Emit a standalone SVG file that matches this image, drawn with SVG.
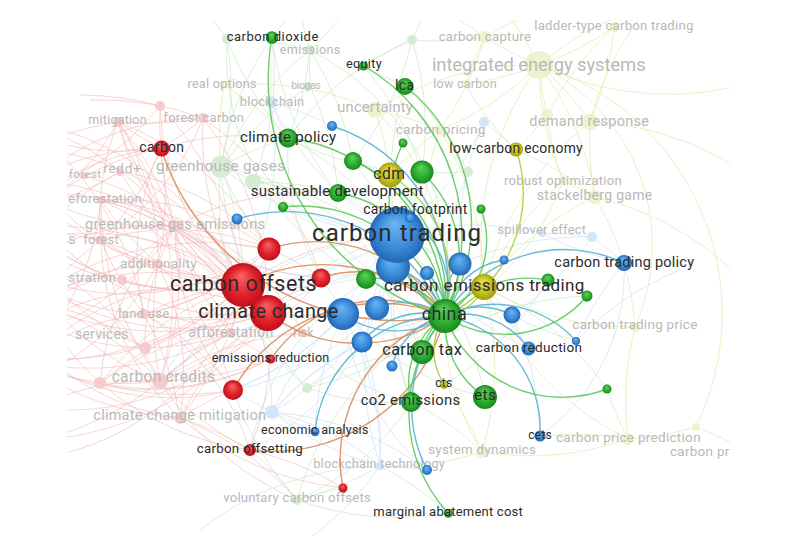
<svg xmlns="http://www.w3.org/2000/svg" width="790" height="552" viewBox="0 0 790 552">
<defs>
<style>
text{font-family:Roboto,"Liberation Sans",Arial,sans-serif;text-anchor:middle}
.d{fill:#2b2b2b}
.f{fill:#b9b9b9}
.s{text-anchor:start}
.ep path{fill:none;stroke:#f2b3b3;stroke-opacity:.55;stroke-width:1}
.eg path{fill:none;stroke:#c4e4c0;stroke-opacity:.6;stroke-width:1}
.ey path{fill:none;stroke:#e6ebb0;stroke-opacity:.75;stroke-width:1}
.eb path{fill:none;stroke:#c6dcf0;stroke-opacity:.6;stroke-width:1}
.h path{fill:none;stroke-width:1.4;stroke-opacity:.9}
.hr{stroke:#dc8d5a}
.hb{stroke:#5bb3d3}
.hy{stroke:#a8cf3c}
.hg{stroke:#5ac95a}
.fp{fill:#f7cbcb}
.fg{fill:#d4ecd1}
.fy{fill:#f0f2cd}
.fb{fill:#d4e5f5}
.cr{fill:url(#gR)}
.cb{fill:url(#gB)}
.cg{fill:url(#gG)}
.cy{fill:url(#gY)}
</style>
<radialGradient id="gR" cx=".5" cy=".5" r=".5" fx=".45" fy=".28"><stop offset="0" stop-color="#f6676a"/><stop offset=".6" stop-color="#e2242c"/><stop offset="1" stop-color="#bf0f1b"/></radialGradient>
<radialGradient id="gB" cx=".5" cy=".5" r=".5" fx=".45" fy=".28"><stop offset="0" stop-color="#6cb5f1"/><stop offset=".6" stop-color="#3d8fdb"/><stop offset="1" stop-color="#2367b3"/></radialGradient>
<radialGradient id="gG" cx=".5" cy=".5" r=".5" fx=".45" fy=".28"><stop offset="0" stop-color="#62d25c"/><stop offset=".6" stop-color="#2fae34"/><stop offset="1" stop-color="#178a1e"/></radialGradient>
<radialGradient id="gY" cx=".5" cy=".5" r=".5" fx=".45" fy=".28"><stop offset="0" stop-color="#e2e24e"/><stop offset=".6" stop-color="#c6c41d"/><stop offset="1" stop-color="#a09e0b"/></radialGradient>
<clipPath id="vp"><rect x="67" y="20" width="663" height="516"/></clipPath>
</defs>
<rect width="790" height="552" fill="#fff"/>
<g clip-path="url(#vp)">
<g id="edges-faded">
<g class="ep">
<path d="M243 285 A300 300 0 0 1 160 381"/><path d="M243 285 A300 300 0 0 0 100 383"/><path d="M243 285 A300 300 0 0 1 180 418"/><path d="M243 285 A300 300 0 0 0 144 314"/><path d="M243 285 A300 300 0 0 1 158 264"/><path d="M243 285 A300 300 0 0 0 175 226"/><path d="M243 285 A300 300 0 0 1 101 240"/><path d="M243 285 A300 300 0 0 0 101 200"/><path d="M243 285 A300 300 0 0 1 120 172"/><path d="M243 285 A300 300 0 0 0 85 176"/><path d="M243 285 A300 300 0 0 1 118 122"/><path d="M243 285 A300 300 0 0 0 160 106"/><path d="M243 285 A300 300 0 0 1 203 118"/><path d="M243 285 A300 300 0 0 1 231 333"/><path d="M243 285 A300 300 0 0 0 20 120"/><path d="M243 285 A300 300 0 0 1 10 230"/><path d="M243 285 A300 300 0 0 0 30 300"/><path d="M243 285 A300 300 0 0 1 20 360"/><path d="M243 285 A300 300 0 0 0 30 180"/>
<path d="M268 313 A300 300 0 0 1 160 381"/><path d="M268 313 A300 300 0 0 0 180 418"/><path d="M268 313 A300 300 0 0 1 144 314"/><path d="M268 313 A300 300 0 0 0 158 264"/><path d="M268 313 A300 300 0 0 1 175 226"/><path d="M268 313 A300 300 0 0 0 101 200"/><path d="M268 313 A300 300 0 0 1 118 122"/><path d="M268 313 A300 300 0 0 0 203 118"/><path d="M268 313 A300 300 0 0 0 10 230"/><path d="M268 313 A300 300 0 0 1 30 300"/><path d="M268 313 A300 300 0 0 0 100 383"/><path d="M268 313 A300 300 0 0 1 40 440"/>
<path d="M160 381 A300 300 0 0 1 158 264"/><path d="M160 381 A300 300 0 0 0 175 226"/><path d="M160 381 A300 300 0 0 1 101 200"/><path d="M160 381 A300 300 0 0 0 30 300"/><path d="M160 381 A300 300 0 0 1 40 440"/><path d="M160 381 A300 300 0 0 0 118 122"/>
<path d="M180 418 A300 300 0 0 1 20 360"/><path d="M180 418 A300 300 0 0 0 144 314"/><path d="M180 418 A300 300 0 0 1 250 450"/><path d="M180 418 A300 300 0 0 1 297 500"/><path d="M160 381 A300 300 0 0 0 297 500"/>
<path d="M175 226 A300 300 0 0 0 118 122"/><path d="M175 226 A300 300 0 0 1 161 148"/><path d="M175 226 A300 300 0 0 0 20 120"/><path d="M175 226 A300 300 0 0 1 30 300"/>
<path d="M161 148 A300 300 0 0 1 118 122"/><path d="M161 148 A300 300 0 0 0 85 176"/><path d="M161 148 A300 300 0 0 1 160 106"/><path d="M161 148 A300 300 0 0 0 30 180"/><path d="M161 148 A300 300 0 0 1 158 264"/>
<path d="M158 264 A300 300 0 0 0 10 230"/><path d="M158 264 A300 300 0 0 1 101 200"/><path d="M144 314 A300 300 0 0 0 20 120"/><path d="M144 314 A300 300 0 0 1 101 240"/>
<path d="M160 106 A300 300 0 0 0 80 95"/><path d="M203 118 A300 300 0 0 1 118 122"/><path d="M203 118 A300 300 0 0 0 90 100"/>
<path d="M269 249 A300 300 0 0 1 175 226"/><path d="M269 249 A300 300 0 0 0 118 122"/><path d="M269 249 A300 300 0 0 1 160 381"/><path d="M269 249 A300 300 0 0 0 30 300"/>
<path d="M321 278 A300 300 0 0 1 175 226"/><path d="M321 278 A300 300 0 0 0 203 118"/><path d="M321 278 A300 300 0 0 1 160 381"/>
<path d="M231 333 A300 300 0 0 1 20 360"/><path d="M231 333 A300 300 0 0 0 160 381"/>
<path d="M270 359 A300 300 0 0 1 160 381"/><path d="M270 359 A300 300 0 0 0 175 226"/>
<path d="M233 390 A300 300 0 0 1 100 383"/><path d="M233 390 A300 300 0 0 0 158 264"/><path d="M233 390 A300 300 0 0 0 180 418"/>
<path d="M250 450 A300 300 0 0 1 160 381"/><path d="M250 450 A300 300 0 0 0 270 359"/><path d="M250 450 A300 300 0 0 1 100 383"/>
<path d="M303 333 A300 300 0 0 1 175 226"/><path d="M303 333 A300 300 0 0 0 160 381"/>
<path d="M145 348 A300 300 0 0 1 10 230"/><path d="M145 348 A300 300 0 0 0 243 285"/><path d="M100 383 A300 300 0 0 1 20 260"/><path d="M101 240 A300 300 0 0 0 20 330"/><path d="M120 172 A300 300 0 0 1 20 210"/><path d="M118 122 A300 300 0 0 0 10 160"/>
<path d="M343 488 A300 300 0 0 1 180 418"/><path d="M343 488 A300 300 0 0 0 250 450"/>
<path d="M243 285 A300 300 0 0 1 397 235"/><path d="M268 313 A300 300 0 0 0 343 314"/><path d="M175 226 A300 300 0 0 1 338 193"/><path d="M161 148 A300 300 0 0 1 288 138"/>
<path d="M243 285 A250 250 0 0 1 0 100"/><path d="M243 285 A250 250 0 0 0 0 150"/><path d="M243 285 A250 250 0 0 1 0 200"/><path d="M243 285 A250 250 0 0 0 0 250"/><path d="M243 285 A250 250 0 0 1 0 350"/><path d="M243 285 A250 250 0 0 0 0 400"/><path d="M243 285 A250 250 0 0 1 20 460"/>
<path d="M268 313 A250 250 0 0 1 0 150"/><path d="M268 313 A250 250 0 0 0 0 200"/><path d="M268 313 A250 250 0 0 1 0 250"/><path d="M268 313 A250 250 0 0 0 0 350"/><path d="M268 313 A250 250 0 0 1 0 400"/>
<path d="M160 381 A250 250 0 0 1 0 200"/><path d="M160 381 A250 250 0 0 0 0 250"/><path d="M160 381 A250 250 0 0 1 0 350"/><path d="M160 381 A250 250 0 0 0 0 430"/>
<path d="M175 226 A250 250 0 0 1 0 170"/><path d="M175 226 A250 250 0 0 0 0 280"/><path d="M175 226 A250 250 0 0 1 0 340"/><path d="M175 226 A250 250 0 0 0 100 383"/>
<path d="M158 264 A250 250 0 0 1 0 150"/><path d="M158 264 A250 250 0 0 0 0 330"/><path d="M158 264 A250 250 0 0 1 0 390"/><path d="M158 264 A250 250 0 0 0 118 122"/>
<path d="M144 314 A250 250 0 0 1 0 260"/><path d="M144 314 A250 250 0 0 0 0 380"/><path d="M144 314 A250 250 0 0 1 161 148"/><path d="M144 314 A250 250 0 0 0 269 249"/>
<path d="M161 148 A250 250 0 0 1 0 120"/><path d="M161 148 A250 250 0 0 0 0 230"/><path d="M161 148 A250 250 0 0 1 101 240"/><path d="M161 148 A250 250 0 0 0 203 118"/>
<path d="M231 333 A250 250 0 0 1 0 300"/><path d="M231 333 A250 250 0 0 0 101 200"/><path d="M231 333 A250 250 0 0 1 175 226"/><path d="M231 333 A250 250 0 0 0 100 383"/>
<path d="M269 249 A250 250 0 0 1 0 260"/><path d="M269 249 A250 250 0 0 0 101 200"/><path d="M269 249 A250 250 0 0 1 144 314"/><path d="M269 249 A250 250 0 0 0 120 172"/>
<path d="M233 390 A250 250 0 0 1 0 330"/><path d="M233 390 A250 250 0 0 0 144 314"/><path d="M233 390 A250 250 0 0 1 175 226"/>
<path d="M180 418 A250 250 0 0 1 0 300"/><path d="M180 418 A250 250 0 0 0 158 264"/><path d="M180 418 A250 250 0 0 1 101 240"/>
<path d="M118 122 A250 250 0 0 1 0 230"/><path d="M118 122 A250 250 0 0 0 101 240"/><path d="M120 172 A250 250 0 0 0 0 300"/><path d="M101 200 A250 250 0 0 1 0 380"/><path d="M85 176 A250 250 0 0 0 0 260"/>
<path d="M270 359 A250 250 0 0 1 0 340"/><path d="M270 359 A250 250 0 0 0 144 314"/><path d="M270 359 A250 250 0 0 1 100 383"/>
<path d="M321 278 A250 250 0 0 0 101 240"/><path d="M321 278 A250 250 0 0 1 144 314"/><path d="M303 333 A250 250 0 0 0 101 200"/><path d="M250 450 A250 250 0 0 0 144 314"/>
<path d="M203 118 A250 250 0 0 1 101 240"/><path d="M203 118 A250 250 0 0 0 0 220"/><path d="M160 106 A250 250 0 0 1 0 200"/><path d="M160 106 A250 250 0 0 0 243 285"/>
<path d="M145 348 A250 250 0 0 1 175 226"/><path d="M145 348 A250 250 0 0 0 0 300"/><path d="M122 280 A250 250 0 0 1 0 200"/><path d="M122 280 A250 250 0 0 0 243 285"/>
</g>
<g class="eg">
<path d="M227 39 A300 300 0 0 1 221 167"/><path d="M227 39 A300 300 0 0 0 288 138"/><path d="M227 39 A300 300 0 0 1 310 50"/><path d="M272 37 A300 300 0 0 0 221 167"/><path d="M272 37 A300 300 0 0 1 253 182"/><path d="M272 37 A300 300 0 0 0 338 193"/>
<path d="M310 50 A300 300 0 0 1 288 138"/><path d="M310 50 A300 300 0 0 0 221 167"/><path d="M310 50 A300 300 0 0 1 353 161"/><path d="M310 50 A300 300 0 0 0 310 86"/><path d="M310 50 A300 300 0 0 1 300 10"/><path d="M310 50 A300 300 0 0 0 350 5"/>
<path d="M412 40 A300 300 0 0 1 353 161"/><path d="M412 40 A300 300 0 0 0 288 138"/><path d="M412 40 A300 300 0 0 1 422 172"/><path d="M412 40 A300 300 0 0 0 485 37"/><path d="M412 40 A300 300 0 0 1 430 5"/><path d="M412 40 A300 300 0 0 0 364 66"/>
<path d="M227 39 A300 300 0 0 0 200 5"/><path d="M272 37 A300 300 0 0 1 300 5"/>
<path d="M221 167 A300 300 0 0 1 288 138"/><path d="M221 167 A300 300 0 0 0 338 193"/><path d="M221 167 A300 300 0 0 1 243 285"/><path d="M221 167 A300 300 0 0 0 269 249"/>
<path d="M253 182 A300 300 0 0 1 338 193"/><path d="M253 182 A300 300 0 0 0 397 235"/><path d="M288 138 A300 300 0 0 1 397 235"/><path d="M288 138 A300 300 0 0 0 422 172"/>
<path d="M364 66 A300 300 0 0 1 422 172"/><path d="M364 66 A300 300 0 0 0 405 86"/><path d="M405 86 A300 300 0 0 1 468 172"/><path d="M405 86 A300 300 0 0 0 397 235"/><path d="M353 161 A300 300 0 0 1 397 235"/>
<path d="M307 388 A300 300 0 0 0 445 316"/><path d="M307 388 A300 300 0 0 1 243 285"/>
<path d="M297 500 A300 300 0 0 1 343 488"/><path d="M297 500 A300 300 0 0 0 250 450"/><path d="M297 500 A300 300 0 0 1 445 316"/><path d="M297 500 A300 300 0 0 0 380 466"/><path d="M297 500 A300 300 0 0 1 233 390"/>
<path d="M468 172 A300 300 0 0 0 445 316"/><path d="M468 172 A300 300 0 0 1 422 172"/><path d="M310 86 A300 300 0 0 1 338 193"/><path d="M310 86 A300 300 0 0 0 221 167"/>
<path d="M338 193 A300 300 0 0 1 485 397"/><path d="M422 172 A300 300 0 0 0 411 402"/><path d="M283 207 A300 300 0 0 1 422 352"/><path d="M448 513 A300 300 0 0 0 380 466"/><path d="M448 513 A300 300 0 0 1 297 500"/>
<path d="M607 389 A300 300 0 0 0 484 287"/><path d="M548 280 A300 300 0 0 1 411 402"/><path d="M587 296 A300 300 0 0 0 422 352"/>
<path d="M221 167 A250 250 0 0 1 422 352"/><path d="M221 167 A250 250 0 0 0 411 402"/><path d="M253 182 A250 250 0 0 1 445 316"/><path d="M288 138 A250 250 0 0 0 485 397"/><path d="M310 50 A250 250 0 0 1 445 316"/><path d="M227 39 A250 250 0 0 0 366 279"/>
<path d="M307 388 A250 250 0 0 1 422 352"/><path d="M307 388 A250 250 0 0 0 411 402"/><path d="M307 388 A250 250 0 0 1 221 167"/><path d="M297 500 A250 250 0 0 0 411 402"/>
</g>
<g class="ey">
<path d="M539 65 A300 300 0 0 1 485 37"/><path d="M539 65 A300 300 0 0 0 614 27"/><path d="M539 65 A300 300 0 0 1 465 84"/><path d="M539 65 A300 300 0 0 0 547 115"/><path d="M539 65 A300 300 0 0 1 590 122"/><path d="M539 65 A300 300 0 0 0 563 181"/><path d="M539 65 A300 300 0 0 1 595 197"/><path d="M539 65 A300 300 0 0 0 500 5"/><path d="M539 65 A300 300 0 0 1 650 5"/><path d="M539 65 A300 300 0 0 0 760 80"/><path d="M539 65 A300 300 0 0 1 440 130"/><path d="M539 65 A300 300 0 0 0 375 110"/><path d="M539 65 A200 200 0 0 1 635 327"/><path d="M539 65 A300 300 0 0 0 484 287"/><path d="M539 65 A260 260 0 0 1 696 427"/>
<path d="M485 37 A300 300 0 0 1 560 5"/><path d="M485 37 A300 300 0 0 0 465 84"/><path d="M485 37 A300 300 0 0 1 440 130"/><path d="M485 37 A300 300 0 0 0 430 5"/>
<path d="M614 27 A300 300 0 0 1 700 5"/><path d="M614 27 A300 300 0 0 0 547 115"/><path d="M614 27 A300 300 0 0 1 590 122"/>
<path d="M590 122 A300 300 0 0 0 595 197"/><path d="M590 122 A300 300 0 0 1 780 200"/><path d="M590 122 A300 300 0 0 0 484 287"/><path d="M590 122 A300 300 0 0 1 650 5"/>
<path d="M547 115 A300 300 0 0 0 563 181"/><path d="M547 115 A300 300 0 0 1 516 150"/>
<path d="M595 197 A300 300 0 0 0 484 287"/><path d="M595 197 A300 300 0 0 1 635 327"/><path d="M595 197 A300 300 0 0 0 563 181"/><path d="M595 197 A300 300 0 0 1 760 300"/>
<path d="M635 327 A300 300 0 0 0 628 439"/><path d="M635 327 A300 300 0 0 1 484 287"/><path d="M628 439 A300 300 0 0 0 696 427"/><path d="M696 427 A300 300 0 0 1 760 460"/><path d="M628 439 A300 300 0 0 1 482 452"/>
<path d="M482 452 A300 300 0 0 0 444 384"/><path d="M482 452 A300 300 0 0 1 380 466"/><path d="M482 452 A300 300 0 0 0 484 287"/>
<path d="M375 110 A300 300 0 0 1 390 175"/><path d="M375 110 A300 300 0 0 0 224 85"/><path d="M224 85 A300 300 0 0 1 288 138"/><path d="M224 85 A300 300 0 0 0 221 167"/><path d="M375 110 A300 300 0 0 1 440 130"/>
<path d="M440 130 A300 300 0 0 0 390 175"/><path d="M440 130 A300 300 0 0 1 484 287"/><path d="M465 84 A300 300 0 0 0 516 150"/><path d="M516 150 A300 300 0 0 1 595 197"/><path d="M563 181 A300 300 0 0 0 484 287"/>
<path d="M628 439 A300 300 0 0 1 484 287"/><path d="M607 389 A300 300 0 0 0 628 439"/><path d="M540 436 A300 300 0 0 1 628 439"/>
<path d="M482 452 A250 250 0 0 1 445 316"/><path d="M482 452 A250 250 0 0 0 411 402"/><path d="M375 110 A250 250 0 0 1 445 316"/><path d="M440 130 A250 250 0 0 0 445 316"/><path d="M563 181 A250 250 0 0 1 445 316"/>
</g>
<g class="eb">
<path d="M271 102 A300 300 0 0 1 332 126"/><path d="M271 102 A300 300 0 0 0 397 235"/><path d="M271 102 A300 300 0 0 1 243 285"/><path d="M271 102 A300 300 0 0 0 288 138"/>
<path d="M484 122 A300 300 0 0 1 397 235"/><path d="M484 122 A300 300 0 0 0 460 264"/><path d="M484 122 A300 300 0 0 1 516 150"/>
<path d="M542 233 A300 300 0 0 0 397 235"/><path d="M542 233 A300 300 0 0 1 592 237"/><path d="M542 233 A300 300 0 0 0 624 263"/>
<path d="M592 237 A300 300 0 0 1 624 263"/><path d="M592 237 A300 300 0 0 0 460 264"/><path d="M592 237 A300 300 0 0 1 512 315"/>
<path d="M272 412 A300 300 0 0 1 343 314"/><path d="M272 412 A300 300 0 0 0 243 285"/><path d="M272 412 A300 300 0 0 1 233 390"/><path d="M272 412 A300 300 0 0 0 380 466"/><path d="M272 412 A300 300 0 0 1 445 316"/><path d="M272 412 A300 300 0 0 0 315 431"/><path d="M272 412 A300 300 0 0 1 362 342"/>
<path d="M380 466 A300 300 0 0 0 343 314"/><path d="M380 466 A300 300 0 0 1 427 470"/><path d="M380 466 A300 300 0 0 0 362 342"/><path d="M380 466 A300 300 0 0 1 397 235"/>
<path d="M540 436 A300 300 0 0 0 512 315"/><path d="M576 341 A300 300 0 0 1 624 263"/><path d="M528 348 A300 300 0 0 0 397 235"/><path d="M343 314 A300 300 0 0 1 397 235"/><path d="M362 342 A300 300 0 0 0 397 235"/>
<path d="M393 267 A300 300 0 0 1 243 285"/><path d="M393 267 A300 300 0 0 0 268 313"/><path d="M397 235 A300 300 0 0 1 243 285"/><path d="M397 235 A300 300 0 0 0 268 313"/><path d="M397 235 A300 300 0 0 1 221 167"/><path d="M397 235 A300 300 0 0 0 160 381"/>
<path d="M540 436 A200 200 0 0 0 624 263"/><path d="M576 341 A300 300 0 0 1 680 270"/><path d="M380 466 A300 300 0 0 1 300 545"/><path d="M380 466 A300 300 0 0 0 200 530"/><path d="M427 470 A300 300 0 0 0 272 412"/><path d="M315 431 A300 300 0 0 1 343 314"/>
<path d="M397 235 A300 300 0 0 1 512 315"/><path d="M397 235 A300 300 0 0 0 528 348"/><path d="M397 235 A300 300 0 0 1 233 390"/><path d="M397 235 A300 300 0 0 0 411 402"/><path d="M343 314 A300 300 0 0 1 233 390"/><path d="M512 315 A300 300 0 0 0 576 341"/>
<path d="M393 267 A250 250 0 0 1 175 226"/><path d="M393 267 A250 250 0 0 0 250 450"/><path d="M343 314 A250 250 0 0 0 160 381"/><path d="M377 308 A250 250 0 0 1 233 390"/><path d="M362 342 A250 250 0 0 1 250 450"/><path d="M272 412 A250 250 0 0 0 397 235"/><path d="M380 466 A250 250 0 0 0 272 412"/><path d="M427 470 A250 250 0 0 1 343 314"/>
</g>
</g>
<g id="nodes-faded">
<g id="f-g1"><circle cx="227" cy="39" r="5" class="fg"/></g>
<g id="f-g2"><circle cx="412" cy="40" r="5" class="fg"/></g>
<g id="f-p3"><circle cx="160" cy="106" r="5" class="fp"/></g>
<g id="f-g3"><circle cx="468" cy="172" r="5" class="fg"/></g>
<g id="f-g4"><circle cx="253" cy="182" r="8" class="fg"/></g>
<g id="f-b4"><circle cx="272" cy="412" r="7" class="fb"/></g>
<g id="f-g5"><circle cx="307" cy="388" r="5" class="fg"/></g>
<g id="f-p1"><circle cx="122" cy="280" r="5" class="fp"/></g>
<g id="f-p2"><circle cx="100" cy="383" r="6" class="fp"/></g>
<g id="f-p4"><circle cx="145" cy="348" r="6" class="fp"/></g>
<g id="f-y1"><circle cx="696" cy="427" r="4" class="fy"/></g>
<g id="f-y2"><circle cx="547" cy="115" r="6" class="fy"/></g>
<g id="f-b2"><circle cx="592" cy="237" r="5" class="fb"/></g>
<g id="f-b3"><circle cx="484" cy="122" r="5" class="fb"/></g>
<g id="f-emissions"><circle cx="310" cy="50" r="5" class="fg"/><text class="f" x="310" y="54" font-size="12.6" textLength="60.7" lengthAdjust="spacing">emissions</text></g>
<g id="f-real-options"><circle cx="224" cy="85" r="4" class="fy"/><text class="f" x="222" y="87.7" font-size="12.7" textLength="69" lengthAdjust="spacing">real options</text></g>
<g id="f-biogas"><circle cx="308" cy="86" r="4" class="fg"/><text class="f" x="306" y="89" font-size="10.5" textLength="29.3" lengthAdjust="spacing">biogas</text></g>
<g id="f-blockchain"><circle cx="271" cy="102" r="6" class="fb"/><text class="f" x="272" y="105.7" font-size="12.9" textLength="64.3" lengthAdjust="spacing">blockchain</text></g>
<g id="f-uncertainty"><circle cx="375" cy="110" r="8" class="fy"/><text class="f" x="375" y="112.3" font-size="14.7" textLength="75.4" lengthAdjust="spacing">uncertainty</text></g>
<g id="f-mitigation"><circle cx="118" cy="122" r="5" class="fp"/><text class="f" x="117.5" y="124.3" font-size="12.6" textLength="58.4" lengthAdjust="spacing">mitigation</text></g>
<g id="f-forest-carbon"><circle cx="203" cy="118" r="5" class="fp"/><text class="f" x="203.7" y="122.3" font-size="13" textLength="80.7" lengthAdjust="spacing">forest carbon</text></g>
<g id="f-greenhouse-gases"><circle cx="221" cy="167" r="11" class="fg"/><text class="f" x="220.5" y="170.7" font-size="15.3" textLength="129" lengthAdjust="spacing">greenhouse gases</text></g>
<g id="f-redd"><circle cx="120" cy="172" r="4" class="fp"/><text class="f" x="122" y="173.3" font-size="13.5" textLength="37.7" lengthAdjust="spacing">redd+</text></g>
<g id="f-forest-1"><circle cx="85" cy="176" r="3" class="fp"/><text class="f" x="85" y="178" font-size="11.8" textLength="32.3" lengthAdjust="spacing">forest</text></g>
<g id="f-deforestation"><circle cx="101" cy="200" r="4" class="fp"/><text class="f s" x="68.3" y="202.7" font-size="13.1" textLength="73.4" lengthAdjust="spacing">eforestation</text></g>
<g id="f-ghg-emissions"><circle cx="175" cy="226" r="6" class="fp"/><text class="f" x="175" y="229.3" font-size="14.6" textLength="180" lengthAdjust="spacing">greenhouse gas emissions</text></g>
<g id="f-s"><text class="f s" x="68.3" y="244" font-size="14">s</text></g>
<g id="f-forest-2"><circle cx="101" cy="240" r="5" class="fp"/><text class="f" x="101" y="244" font-size="13.1" textLength="35.7" lengthAdjust="spacing">forest</text></g>
<g id="f-additionality"><circle cx="158" cy="264" r="5" class="fp"/><text class="f" x="158.3" y="268" font-size="13.6" textLength="76.7" lengthAdjust="spacing">additionality</text></g>
<g id="f-stration"><text class="f s" x="68.3" y="281.7" font-size="13.5" textLength="47.7" lengthAdjust="spacing">stration</text></g>
<g id="f-land-use"><circle cx="144" cy="314" r="5" class="fp"/><text class="f" x="143.7" y="317.7" font-size="13" textLength="50.7" lengthAdjust="spacing">land use</text></g>
<g id="f-services"><text class="f s" x="75" y="339.3" font-size="14" textLength="53.3" lengthAdjust="spacing">services</text></g>
<g id="f-afforestation"><circle cx="231" cy="333" r="5" class="fp"/><text class="f" x="230.8" y="336.7" font-size="14.2" textLength="85" lengthAdjust="spacing">afforestation</text></g>
<g id="f-risk"><circle cx="303" cy="333" r="4" class="fp"/><text class="f" x="303.3" y="336.7" font-size="12" textLength="20" lengthAdjust="spacing">risk</text></g>
<g id="f-carbon-credits"><circle cx="160" cy="381" r="8" class="fp"/><text class="f" x="163.3" y="382.3" font-size="15.6" textLength="103.3" lengthAdjust="spacing">carbon credits</text></g>
<g id="f-climate-change-mitigation"><circle cx="180" cy="418" r="6" class="fp"/><text class="f" x="179.7" y="420" font-size="14.5" textLength="172.7" lengthAdjust="spacing">climate change mitigation</text></g>
<g id="f-blockchain-technology"><circle cx="380" cy="466" r="4" class="fb"/><text class="f" x="379" y="468.3" font-size="12.7" textLength="131.7" lengthAdjust="spacing">blockchain technology</text></g>
<g id="f-voluntary-carbon-offsets"><circle cx="297" cy="500" r="5" class="fg"/><text class="f" x="297" y="501.7" font-size="13.2" textLength="147.7" lengthAdjust="spacing">voluntary carbon offsets</text></g>
<g id="f-system-dynamics"><circle cx="482" cy="452" r="6" class="fy"/><text class="f" x="482" y="454.3" font-size="13.4" textLength="107.7" lengthAdjust="spacing">system dynamics</text></g>
<g id="f-carbon-price-prediction"><circle cx="628" cy="439" r="6" class="fy"/><text class="f" x="628.3" y="441.7" font-size="13.6" textLength="144.7" lengthAdjust="spacing">carbon price prediction</text></g>
<g id="f-carbon-pr"><text class="f s" x="670" y="456" font-size="13.5" textLength="59.3" lengthAdjust="spacing">carbon pr</text></g>
<g id="f-carbon-trading-price"><circle cx="635" cy="327" r="5" class="fy"/><text class="f" x="634.8" y="329.3" font-size="13.5" textLength="125" lengthAdjust="spacing">carbon trading price</text></g>
<g id="f-spillover-effect"><circle cx="542" cy="233" r="4" class="fb"/><text class="f" x="541.7" y="234.3" font-size="13" textLength="88.7" lengthAdjust="spacing">spillover effect</text></g>
<g id="f-stackelberg-game"><circle cx="595" cy="197" r="7" class="fy"/><text class="f" x="594.5" y="200" font-size="14" textLength="115.6" lengthAdjust="spacing">stackelberg game</text></g>
<g id="f-robust-optimization"><circle cx="563" cy="181" r="4" class="fy"/><text class="f" x="562.8" y="185" font-size="13.1" textLength="117.7" lengthAdjust="spacing">robust optimization</text></g>
<g id="f-demand-response"><circle cx="590" cy="122" r="8" class="fy"/><text class="f" x="589.2" y="126" font-size="14.5" textLength="119.7" lengthAdjust="spacing">demand response</text></g>
<g id="f-low-carbon"><circle cx="465" cy="84" r="4" class="fy"/><text class="f" x="465" y="87.7" font-size="12.5" textLength="63.4" lengthAdjust="spacing">low carbon</text></g>
<g id="f-carbon-pricing"><circle cx="440" cy="130" r="5" class="fy"/><text class="f" x="440.5" y="134" font-size="13.6" textLength="89.6" lengthAdjust="spacing">carbon pricing</text></g>
<g id="f-integrated-energy-systems"><circle cx="539" cy="65" r="14" class="fy"/><text class="f" x="538.8" y="70.7" font-size="18.4" textLength="213.7" lengthAdjust="spacing">integrated energy systems</text></g>
<g id="f-carbon-capture"><circle cx="485" cy="37" r="6" class="fy"/><text class="f" x="484.8" y="40.7" font-size="13.3" textLength="92.3" lengthAdjust="spacing">carbon capture</text></g>
<g id="f-ladder-type"><circle cx="614" cy="27" r="5" class="fy"/><text class="f" x="613.8" y="30" font-size="13.2" textLength="159" lengthAdjust="spacing">ladder-type carbon trading</text></g>
</g>
<g id="edges" class="h">
<path class="hr" d="M161 148 A248 248 0 0 0 445 316"/>
<path class="hr" stroke-width="3" d="M243 285 A170 170 0 0 1 445 316"/>
<path class="hr" stroke-width="3" d="M268 313 A150 150 0 0 0 445 316"/>
<path class="hr" stroke-width="3" d="M269 249 A150 150 0 0 1 445 316"/>
<path class="hr" d="M321 278 A110 110 0 0 1 445 316"/>
<path class="hr" d="M271 359 A134 134 0 0 1 445 316"/>
<path class="hr" d="M233 390 A169 169 0 0 1 445 316"/>
<path class="hr" d="M250 450 A178 178 0 0 0 445 316"/>
<path class="hr" d="M343 488 A150 150 0 0 1 445 316"/>
<path class="hb" stroke-width="3" d="M397 235 A100 100 0 0 0 445 316"/>
<path class="hb" stroke-width="2.5" d="M393 267 A80 80 0 0 1 445 316"/>
<path class="hb" d="M427 273 A60 60 0 0 1 445 316"/>
<path class="hb" d="M460 264 A60 60 0 0 0 445 316"/>
<path class="hb" d="M504 260 A70 70 0 0 0 445 316"/>
<path class="hb" stroke-width="2.5" d="M343 314 A90 90 0 0 0 445 316"/>
<path class="hb" stroke-width="2" d="M377 308 A70 70 0 0 1 445 316"/>
<path class="hb" d="M362 342 A80 80 0 0 1 445 316"/>
<path class="hb" d="M392 366 A70 70 0 0 1 445 316"/>
<path class="hb" stroke-width="2" d="M512 315 A70 70 0 0 0 445 316"/>
<path class="hb" d="M528 348 A80 80 0 0 0 445 316"/>
<path class="hb" d="M576 341 A110 110 0 0 0 445 316"/>
<path class="hb" d="M624 263 A140 140 0 0 0 445 316"/>
<path class="hb" d="M237 219 A172 172 0 0 1 445 316"/>
<path class="hb" d="M332 126 A166 166 0 0 1 445 316"/>
<path class="hb" d="M315 431 A130 130 0 0 1 445 316"/>
<path class="hb" d="M540 436 A115 115 0 0 0 445 316"/>
<path class="hb" d="M427 470 A140 140 0 0 1 445 316"/>
<path class="hb" d="M410 218 A90 90 0 0 1 445 316"/>
<path class="hy" d="M390 175 A125 125 0 0 1 445 316"/>
<path class="hy" stroke-width="3" d="M484 287 A50 50 0 0 1 445 316"/>
<path class="hy" d="M516 149 A136 136 0 0 1 445 316"/>
<path class="hy" d="M444 384 A60 60 0 0 1 445 316"/>
<path class="hg" d="M272 37 A246 246 0 0 0 445 316"/>
<path class="hg" d="M364 66 A197 197 0 0 1 445 316"/>
<path class="hg" d="M405 86 A175 175 0 0 1 445 316"/>
<path class="hg" d="M288 138 A178 178 0 0 1 445 316"/>
<path class="hg" d="M548 280 A110 110 0 0 0 445 316"/>
<path class="hg" d="M587 296 A107 107 0 0 1 445 316"/>
<path class="hg" stroke-width="2" d="M607 389 A125 125 0 0 1 445 316"/>
<path class="hg" d="M448 513 A148 148 0 0 1 445 316"/>
<path class="hg" stroke-width="3" d="M485 397 A90 90 0 0 1 445 316"/>
<path class="hg" d="M353 161 A150 150 0 0 1 445 316"/>
<path class="hg" d="M403 143 A140 140 0 0 0 445 316"/>
<path class="hg" d="M422 172 A120 120 0 0 1 445 316"/>
<path class="hg" d="M338 193 A130 130 0 0 1 445 316"/>
<path class="hg" d="M283 207 A150 150 0 0 1 445 316"/>
<path class="hg" d="M481 209 A90 90 0 0 1 445 316"/>
<path class="hg" stroke-width="3" d="M422 352 A60 60 0 0 1 445 316"/>
<path class="hg" stroke-width="2.5" d="M411 402 A80 80 0 0 1 445 316"/>
<path class="hg" stroke-width="2" d="M366 279 A80 80 0 0 1 445 316"/>
</g>
<g id="nodes">
<g id="n-b10"><circle cx="576" cy="341" r="4" class="cb"/></g>
<g id="n-b4"><circle cx="504" cy="260" r="4.5" class="cb"/></g>
<g id="n-b12"><circle cx="332" cy="126" r="5" class="cb"/></g>
<g id="n-b13"><circle cx="427" cy="470" r="5" class="cb"/></g>
<g id="n-b11"><circle cx="237" cy="219" r="5.5" class="cb"/></g>
<g id="n-b8"><circle cx="392" cy="366" r="5.5" class="cb"/></g>
<g id="n-g3"><circle cx="403" cy="143" r="4.5" class="cg"/></g>
<g id="n-g8"><circle cx="481" cy="209" r="4.5" class="cg"/></g>
<g id="n-g9"><circle cx="607" cy="389" r="4.5" class="cg"/></g>
<g id="n-g4"><circle cx="283" cy="207" r="5" class="cg"/></g>
<g id="n-g7"><circle cx="587" cy="296" r="5.5" class="cg"/></g>
<g id="n-g6"><circle cx="548" cy="280" r="6.5" class="cg"/></g>
<g id="n-r4"><circle cx="343" cy="488" r="4.5" class="cr"/></g>
<g id="n-b2"><circle cx="427" cy="273" r="7" class="cb"/></g>
<g id="n-b9"><circle cx="512" cy="315" r="8.5" class="cb"/></g>
<g id="n-g2"><circle cx="353" cy="161" r="9" class="cg"/></g>
<g id="n-r2"><circle cx="321" cy="278" r="9.5" class="cr"/></g>
<g id="n-r3"><circle cx="233" cy="390" r="10" class="cr"/></g>
<g id="n-g5"><circle cx="366" cy="279" r="10" class="cg"/></g>
<g id="n-b7"><circle cx="362" cy="342" r="10.5" class="cb"/></g>
<g id="n-g1"><circle cx="422" cy="172" r="11.5" class="cg"/></g>
<g id="n-b3"><circle cx="460" cy="264" r="11.5" class="cb"/></g>
<g id="n-r1"><circle cx="269" cy="249" r="11.5" class="cr"/></g>
<g id="n-b6"><circle cx="377" cy="308" r="12" class="cb"/></g>
<g id="n-b5"><circle cx="343" cy="314" r="16" class="cb"/></g>
<g id="n-b1"><circle cx="393" cy="267" r="17" class="cb"/></g>
<g id="carbon-trading"><circle cx="397" cy="235" r="28" class="cb"/><text class="d" x="396.5" y="241" font-size="24" textLength="169" lengthAdjust="spacing">carbon trading</text></g>
<g id="carbon-offsets"><circle cx="243" cy="285" r="22" class="cr"/><text class="d" x="243.3" y="291" font-size="21.5" textLength="146.7" lengthAdjust="spacing">carbon offsets</text></g>
<g id="cdm"><circle cx="390" cy="175" r="12.5" class="cy"/><text class="d" x="389.2" y="179" font-size="15.6" textLength="31.7" lengthAdjust="spacing">cdm</text></g>
<g id="china"><circle cx="445" cy="316" r="17" class="cg"/><text class="d" x="444.2" y="320" font-size="18" textLength="45" lengthAdjust="spacing">china</text></g>
<g id="carbon-emissions-trading"><circle cx="484" cy="287" r="13" class="cy"/><text class="d" x="484.2" y="291" font-size="17" textLength="200.3" lengthAdjust="spacing">carbon emissions trading</text></g>
<g id="ets"><circle cx="485" cy="397" r="12" class="cg"/><text class="d" x="485" y="400" font-size="15.5" textLength="22" lengthAdjust="spacing">ets</text></g>
<g id="carbon-tax"><circle cx="422" cy="352" r="12" class="cg"/><text class="d" x="422" y="355" font-size="16.2" textLength="79.4" lengthAdjust="spacing">carbon tax</text></g>
<g id="co2-emissions"><circle cx="411" cy="402" r="10" class="cg"/><text class="d" x="410.4" y="405" font-size="14.8" textLength="99.3" lengthAdjust="spacing">co2 emissions</text></g>
<g id="climate-change"><circle cx="268" cy="313" r="18" class="cr"/><text class="d" x="268.3" y="318.3" font-size="19.8" textLength="140" lengthAdjust="spacing">climate change</text></g>
<g id="carbon-footprint"><circle cx="410" cy="218" r="5" class="cb"/><text class="d" x="415.3" y="214" font-size="14" textLength="104" lengthAdjust="spacing">carbon footprint</text></g>
<g id="sustainable-development"><circle cx="338" cy="193" r="9" class="cg"/><text class="d" x="337" y="195.5" font-size="15" textLength="172.6" lengthAdjust="spacing">sustainable development</text></g>
<g id="climate-policy"><circle cx="288" cy="138" r="9.5" class="cg"/><text class="d" x="288" y="141.7" font-size="15" textLength="96" lengthAdjust="spacing">climate policy</text></g>
<g id="lca"><circle cx="405" cy="86.5" r="8.5" class="cg"/><text class="d" x="404.5" y="90" font-size="14" textLength="19" lengthAdjust="spacing">lca</text></g>
<g id="equity"><circle cx="363.5" cy="66" r="4.5" class="cg"/><text class="d" x="363.8" y="68.3" font-size="12.6" textLength="35.7" lengthAdjust="spacing">equity</text></g>
<g id="carbon-dioxide"><circle cx="272" cy="37.5" r="6.3" class="cg"/><text class="d" x="272.5" y="41" font-size="13" textLength="91.7" lengthAdjust="spacing">carbon dioxide</text></g>
<g id="carbon"><circle cx="161.5" cy="148.5" r="8" class="cr"/><text class="d" x="161.7" y="151.7" font-size="14" textLength="44.7" lengthAdjust="spacing">carbon</text></g>
<g id="low-carbon-economy"><circle cx="516" cy="149.5" r="7" class="cy"/><text class="d" x="516" y="152.7" font-size="13.9" textLength="133.4" lengthAdjust="spacing">low-carbon economy</text></g>
<g id="carbon-trading-policy"><circle cx="624" cy="263" r="8" class="cb"/><text class="d" x="624.2" y="267.3" font-size="14.5" textLength="139.7" lengthAdjust="spacing">carbon trading policy</text></g>
<g id="carbon-reduction"><circle cx="528.5" cy="348.5" r="7" class="cb"/><text class="d" x="528.8" y="351.7" font-size="13.6" textLength="106.3" lengthAdjust="spacing">carbon reduction</text></g>
<g id="cts"><circle cx="444" cy="384.5" r="4.3" class="cy"/><text class="d" x="443.8" y="386.7" font-size="12" textLength="17" lengthAdjust="spacing">cts</text></g>
<g id="cets"><circle cx="540" cy="436" r="5.5" class="cb"/><text class="d" x="540" y="439" font-size="11.9" textLength="23.4" lengthAdjust="spacing">cets</text></g>
<g id="emissions-reduction"><circle cx="270.7" cy="359" r="4.5" class="cr"/><text class="d" x="270.5" y="361.7" font-size="12.6" textLength="117.6" lengthAdjust="spacing">emissions reduction</text></g>
<g id="economic-analysis"><circle cx="315" cy="431.7" r="4.5" class="cb"/><text class="d" x="314.7" y="434" font-size="12.5" textLength="107.3" lengthAdjust="spacing">economic analysis</text></g>
<g id="carbon-offsetting"><circle cx="250" cy="450" r="6" class="cr"/><text class="d" x="249.7" y="453.3" font-size="13.3" textLength="106" lengthAdjust="spacing">carbon offsetting</text></g>
<g id="marginal-abatement-cost"><circle cx="448.3" cy="513.3" r="4.5" class="cg"/><text class="d" x="448" y="516" font-size="13" textLength="149.4" lengthAdjust="spacing">marginal abatement cost</text></g>
</g>
</g>
</svg>
